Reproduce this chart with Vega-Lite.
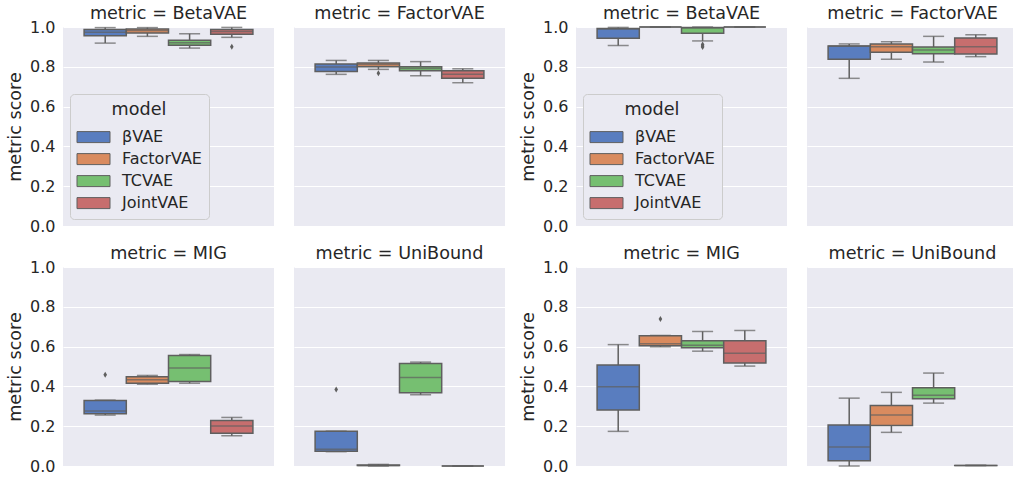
{
  "$schema": "https://vega.github.io/schema/vega-lite/v6.json",
  "background": "white",
  "padding": {"left": 6, "top": 4, "right": 0, "bottom": 0},
  "config": {
    "font": "DejaVu Sans",
    "view": {"fill": "#EAEAF2", "stroke": null},
    "axis": {"grid": true, "gridColor": "white", "gridWidth": 1.2, "domain": false, "ticks": false, "labelColor": "#262626", "titleColor": "#262626", "labelFontSize": 16, "titleFontSize": 17.6, "titleFontWeight": "normal", "labelPadding": 8, "titlePadding": 5, "labelOverlap": false, "labelFlush": false},
    "axisY": {"values": [0, 0.2, 0.4, 0.6, 0.8, 1.0], "format": ".1f", "tickCount": 6},
    "header": {"labelFontSize": 17.6, "labelColor": "#262626", "labelPadding": 4, "title": null},
    "legend": {"titleFontSize": 17.6, "titleFontWeight": "normal", "titleColor": "#262626", "labelFontSize": 16, "labelColor": "#262626", "titleAnchor": "middle", "symbolType": "M-1.5,-0.5H1.5V0.5H-1.5Z", "symbolSize": 484, "symbolStrokeColor": "#5f5f5f", "symbolStrokeWidth": 1, "fillColor": "#EAEAF2", "strokeColor": "#cccccc", "cornerRadius": 4, "padding": 7, "rowPadding": 2, "labelOffset": 17, "symbolOffset": 5, "titlePadding": 7, "symbolOpacity": 1},
    "concat": {"spacing": 14}
  },
  "datasets": {
    "d": [
      {"set": "A", "metric": "BetaVAE", "model": "βVAE", "kind": "box", "lo": 0.919, "q1": 0.956, "med": 0.973, "q3": 0.987, "hi": 0.997},
      {"set": "A", "metric": "BetaVAE", "model": "FactorVAE", "kind": "box", "lo": 0.953, "q1": 0.970, "med": 0.983, "q3": 0.990, "hi": 0.997},
      {"set": "A", "metric": "BetaVAE", "model": "TCVAE", "kind": "box", "lo": 0.894, "q1": 0.908, "med": 0.921, "q3": 0.933, "hi": 0.966},
      {"set": "A", "metric": "BetaVAE", "model": "JointVAE", "kind": "box", "lo": 0.948, "q1": 0.963, "med": 0.978, "q3": 0.987, "hi": 0.998},
      {"set": "A", "metric": "BetaVAE", "model": "JointVAE", "kind": "flier", "value": 0.901},
      {"set": "A", "metric": "FactorVAE", "model": "βVAE", "kind": "box", "lo": 0.762, "q1": 0.777, "med": 0.799, "q3": 0.814, "hi": 0.832},
      {"set": "A", "metric": "FactorVAE", "model": "FactorVAE", "kind": "box", "lo": 0.787, "q1": 0.800, "med": 0.812, "q3": 0.819, "hi": 0.832},
      {"set": "A", "metric": "FactorVAE", "model": "FactorVAE", "kind": "flier", "value": 0.767},
      {"set": "A", "metric": "FactorVAE", "model": "TCVAE", "kind": "box", "lo": 0.755, "q1": 0.780, "med": 0.792, "q3": 0.800, "hi": 0.826},
      {"set": "A", "metric": "FactorVAE", "model": "JointVAE", "kind": "box", "lo": 0.720, "q1": 0.743, "med": 0.763, "q3": 0.780, "hi": 0.790},
      {"set": "A", "metric": "MIG", "model": "βVAE", "kind": "box", "lo": 0.256, "q1": 0.263, "med": 0.276, "q3": 0.329, "hi": 0.331},
      {"set": "A", "metric": "MIG", "model": "βVAE", "kind": "flier", "value": 0.458},
      {"set": "A", "metric": "MIG", "model": "FactorVAE", "kind": "box", "lo": 0.411, "q1": 0.416, "med": 0.433, "q3": 0.448, "hi": 0.455},
      {"set": "A", "metric": "MIG", "model": "TCVAE", "kind": "box", "lo": 0.416, "q1": 0.425, "med": 0.492, "q3": 0.555, "hi": 0.560},
      {"set": "A", "metric": "MIG", "model": "JointVAE", "kind": "box", "lo": 0.152, "q1": 0.164, "med": 0.201, "q3": 0.229, "hi": 0.244},
      {"set": "A", "metric": "UniBound", "model": "βVAE", "kind": "box", "lo": 0.072, "q1": 0.074, "med": 0.084, "q3": 0.174, "hi": 0.175},
      {"set": "A", "metric": "UniBound", "model": "βVAE", "kind": "flier", "value": 0.385},
      {"set": "A", "metric": "UniBound", "model": "FactorVAE", "kind": "box", "lo": 0.0, "q1": 0.002, "med": 0.003, "q3": 0.005, "hi": 0.008},
      {"set": "A", "metric": "UniBound", "model": "TCVAE", "kind": "box", "lo": 0.358, "q1": 0.368, "med": 0.445, "q3": 0.515, "hi": 0.522},
      {"set": "A", "metric": "UniBound", "model": "JointVAE", "kind": "box", "lo": 0.0, "q1": 0.0, "med": 0.0, "q3": 0.0, "hi": 0.0},
      {"set": "B", "metric": "BetaVAE", "model": "βVAE", "kind": "box", "lo": 0.907, "q1": 0.943, "med": 0.990, "q3": 0.992, "hi": 0.998},
      {"set": "B", "metric": "BetaVAE", "model": "FactorVAE", "kind": "box", "lo": 1.0, "q1": 1.0, "med": 1.0, "q3": 1.0, "hi": 1.0},
      {"set": "B", "metric": "BetaVAE", "model": "TCVAE", "kind": "box", "lo": 0.930, "q1": 0.968, "med": 0.995, "q3": 0.997, "hi": 1.0},
      {"set": "B", "metric": "BetaVAE", "model": "TCVAE", "kind": "flier", "value": 0.912},
      {"set": "B", "metric": "BetaVAE", "model": "TCVAE", "kind": "flier", "value": 0.905},
      {"set": "B", "metric": "BetaVAE", "model": "TCVAE", "kind": "flier", "value": 0.899},
      {"set": "B", "metric": "BetaVAE", "model": "JointVAE", "kind": "box", "lo": 1.0, "q1": 1.0, "med": 1.0, "q3": 1.0, "hi": 1.0},
      {"set": "B", "metric": "FactorVAE", "model": "βVAE", "kind": "box", "lo": 0.742, "q1": 0.838, "med": 0.904, "q3": 0.905, "hi": 0.915},
      {"set": "B", "metric": "FactorVAE", "model": "FactorVAE", "kind": "box", "lo": 0.838, "q1": 0.873, "med": 0.901, "q3": 0.915, "hi": 0.926},
      {"set": "B", "metric": "FactorVAE", "model": "TCVAE", "kind": "box", "lo": 0.824, "q1": 0.866, "med": 0.884, "q3": 0.900, "hi": 0.953},
      {"set": "B", "metric": "FactorVAE", "model": "JointVAE", "kind": "box", "lo": 0.851, "q1": 0.864, "med": 0.901, "q3": 0.945, "hi": 0.961},
      {"set": "B", "metric": "MIG", "model": "βVAE", "kind": "box", "lo": 0.174, "q1": 0.281, "med": 0.398, "q3": 0.508, "hi": 0.610},
      {"set": "B", "metric": "MIG", "model": "FactorVAE", "kind": "box", "lo": 0.599, "q1": 0.604, "med": 0.614, "q3": 0.655, "hi": 0.656},
      {"set": "B", "metric": "MIG", "model": "FactorVAE", "kind": "flier", "value": 0.739},
      {"set": "B", "metric": "MIG", "model": "TCVAE", "kind": "box", "lo": 0.577, "q1": 0.594, "med": 0.607, "q3": 0.630, "hi": 0.676},
      {"set": "B", "metric": "MIG", "model": "JointVAE", "kind": "box", "lo": 0.502, "q1": 0.517, "med": 0.567, "q3": 0.630, "hi": 0.681},
      {"set": "B", "metric": "UniBound", "model": "βVAE", "kind": "box", "lo": 0.0, "q1": 0.027, "med": 0.095, "q3": 0.206, "hi": 0.341},
      {"set": "B", "metric": "UniBound", "model": "FactorVAE", "kind": "box", "lo": 0.169, "q1": 0.204, "med": 0.256, "q3": 0.304, "hi": 0.370},
      {"set": "B", "metric": "UniBound", "model": "TCVAE", "kind": "box", "lo": 0.316, "q1": 0.338, "med": 0.356, "q3": 0.393, "hi": 0.467},
      {"set": "B", "metric": "UniBound", "model": "JointVAE", "kind": "box", "lo": 0.002, "q1": 0.002, "med": 0.003, "q3": 0.003, "hi": 0.004}
    ]
  },
  "hconcat": [
    {
      "data": {"name": "d"},
      "transform": [{"filter": "datum.set == 'A'"}],
      "facet": {"field": "metric", "type": "nominal", "header": {"labelExpr": "'metric = ' + datum.value", "title": null}},
      "columns": 2,
      "spacing": {"column": 20, "row": 18},
      "spec": {
        "width": 211,
        "height": 199,
        "encoding": {
          "x": {"field": "model", "type": "nominal", "axis": null, "scale": {"type": "band", "domain": ["βVAE", "FactorVAE", "TCVAE", "JointVAE"], "paddingInner": 0, "paddingOuter": 0.5}}
        },
        "layer": [
          {
            "transform": [{"filter": "datum.kind == 'box'"}],
            "mark": {"type": "rule", "stroke": "#5f5f5f", "strokeWidth": 1.5},
            "encoding": {
              "y": {"field": "lo", "type": "quantitative", "scale": {"domain": [0, 1], "nice": false}, "axis": {"title": "metric score", "values": [0, 0.2, 0.4, 0.6, 0.8, 1.0], "format": ".1f"}},
              "y2": {"field": "hi"}
            }
          },
          {
            "transform": [{"filter": "datum.kind == 'box'"}],
            "mark": {"type": "tick", "color": "#5f5f5f", "size": 21, "thickness": 1.5},
            "encoding": {"y": {"field": "lo", "type": "quantitative", "axis": {"title": "metric score", "values": [0, 0.2, 0.4, 0.6, 0.8, 1.0], "format": ".1f"}}}
          },
          {
            "transform": [{"filter": "datum.kind == 'box'"}],
            "mark": {"type": "tick", "color": "#5f5f5f", "size": 21, "thickness": 1.5},
            "encoding": {"y": {"field": "hi", "type": "quantitative", "axis": {"title": "metric score", "values": [0, 0.2, 0.4, 0.6, 0.8, 1.0], "format": ".1f"}}}
          },
          {
            "transform": [{"filter": "datum.kind == 'box'"}],
            "mark": {"type": "bar", "stroke": "#5f5f5f", "strokeWidth": 1.5, "opacity": 1},
            "encoding": {
              "y": {"field": "q1", "type": "quantitative", "axis": {"title": "metric score", "values": [0, 0.2, 0.4, 0.6, 0.8, 1.0], "format": ".1f"}},
              "y2": {"field": "q3"},
              "color": {"field": "model", "type": "nominal", "scale": {"domain": ["βVAE", "FactorVAE", "TCVAE", "JointVAE"], "range": ["#597DBF", "#D98B5F", "#76BF71", "#C76E6E"]}, "legend": {"title": "model", "orient": "none", "legendX": 7, "legendY": 67}}
            }
          },
          {
            "transform": [{"filter": "datum.kind == 'box'"}],
            "mark": {"type": "tick", "color": "#5f5f5f", "size": 42, "thickness": 1.5},
            "encoding": {"y": {"field": "med", "type": "quantitative", "axis": {"title": "metric score", "values": [0, 0.2, 0.4, 0.6, 0.8, 1.0], "format": ".1f"}}}
          },
          {
            "transform": [{"filter": "datum.kind == 'flier'"}],
            "mark": {"type": "point", "filled": true, "color": "#5f5f5f", "opacity": 1, "shape": "M0,-1L0.6,0L0,1L-0.6,0Z", "size": 36},
            "encoding": {"y": {"field": "value", "type": "quantitative", "axis": {"title": "metric score", "values": [0, 0.2, 0.4, 0.6, 0.8, 1.0], "format": ".1f"}}}
          }
        ]
      }
    },
    {
      "data": {"name": "d"},
      "transform": [{"filter": "datum.set == 'B'"}],
      "facet": {"field": "metric", "type": "nominal", "header": {"labelExpr": "'metric = ' + datum.value", "title": null}},
      "columns": 2,
      "spacing": {"column": 20, "row": 18},
      "spec": {
        "width": 211,
        "height": 199,
        "encoding": {
          "x": {"field": "model", "type": "nominal", "axis": null, "scale": {"type": "band", "domain": ["βVAE", "FactorVAE", "TCVAE", "JointVAE"], "paddingInner": 0, "paddingOuter": 0.5}}
        },
        "layer": [
          {
            "transform": [{"filter": "datum.kind == 'box'"}],
            "mark": {"type": "rule", "stroke": "#5f5f5f", "strokeWidth": 1.5},
            "encoding": {
              "y": {"field": "lo", "type": "quantitative", "scale": {"domain": [0, 1], "nice": false}, "axis": {"title": "metric score", "values": [0, 0.2, 0.4, 0.6, 0.8, 1.0], "format": ".1f"}},
              "y2": {"field": "hi"}
            }
          },
          {
            "transform": [{"filter": "datum.kind == 'box'"}],
            "mark": {"type": "tick", "color": "#5f5f5f", "size": 21, "thickness": 1.5},
            "encoding": {"y": {"field": "lo", "type": "quantitative", "axis": {"title": "metric score", "values": [0, 0.2, 0.4, 0.6, 0.8, 1.0], "format": ".1f"}}}
          },
          {
            "transform": [{"filter": "datum.kind == 'box'"}],
            "mark": {"type": "tick", "color": "#5f5f5f", "size": 21, "thickness": 1.5},
            "encoding": {"y": {"field": "hi", "type": "quantitative", "axis": {"title": "metric score", "values": [0, 0.2, 0.4, 0.6, 0.8, 1.0], "format": ".1f"}}}
          },
          {
            "transform": [{"filter": "datum.kind == 'box'"}],
            "mark": {"type": "bar", "stroke": "#5f5f5f", "strokeWidth": 1.5, "opacity": 1},
            "encoding": {
              "y": {"field": "q1", "type": "quantitative", "axis": {"title": "metric score", "values": [0, 0.2, 0.4, 0.6, 0.8, 1.0], "format": ".1f"}},
              "y2": {"field": "q3"},
              "color": {"field": "model", "type": "nominal", "scale": {"domain": ["βVAE", "FactorVAE", "TCVAE", "JointVAE"], "range": ["#597DBF", "#D98B5F", "#76BF71", "#C76E6E"]}, "legend": {"title": "model", "orient": "none", "legendX": 7, "legendY": 67}}
            }
          },
          {
            "transform": [{"filter": "datum.kind == 'box'"}],
            "mark": {"type": "tick", "color": "#5f5f5f", "size": 42, "thickness": 1.5},
            "encoding": {"y": {"field": "med", "type": "quantitative", "axis": {"title": "metric score", "values": [0, 0.2, 0.4, 0.6, 0.8, 1.0], "format": ".1f"}}}
          },
          {
            "transform": [{"filter": "datum.kind == 'flier'"}],
            "mark": {"type": "point", "filled": true, "color": "#5f5f5f", "opacity": 1, "shape": "M0,-1L0.6,0L0,1L-0.6,0Z", "size": 36},
            "encoding": {"y": {"field": "value", "type": "quantitative", "axis": {"title": "metric score", "values": [0, 0.2, 0.4, 0.6, 0.8, 1.0], "format": ".1f"}}}
          }
        ]
      }
    }
  ],
  "resolve": {"legend": {"color": "independent"}, "scale": {"color": "independent"}}
}
